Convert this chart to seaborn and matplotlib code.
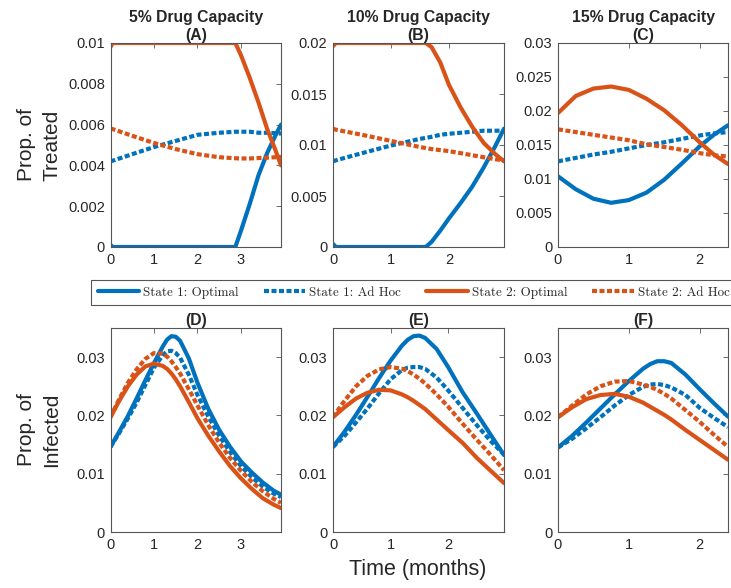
import matplotlib
matplotlib.use("Agg")
import matplotlib.pyplot as plt
import seaborn as sns
from matplotlib.ticker import FuncFormatter

# ---- data ----
BLUE = "#0072BD"
ORANGE = "#D95319"

# (A) 5% capacity, treated
t_a = [0, 0.05, 0.5, 1.0, 1.5, 2.0, 2.5, 2.87, 3.0, 3.2, 3.4, 3.6, 3.8, 3.92]
a_s1_opt = [0.0001, 0, 0, 0, 0, 0, 0, 0, 0.0008, 0.0021, 0.0035, 0.0046, 0.0055, 0.0060]
a_s1_adh = [0.0042, 0.00423, 0.00455, 0.0049, 0.0052, 0.0055, 0.0056, 0.00565, 0.00565,
            0.00565, 0.0056, 0.0056, 0.00558, 0.00556]
a_s2_opt = [0.0098, 0.01, 0.01, 0.01, 0.01, 0.01, 0.01, 0.01, 0.0094, 0.0083, 0.0071,
            0.0058, 0.0047, 0.0040]
a_s2_adh = [0.0058, 0.00578, 0.00545, 0.0051, 0.0048, 0.00455, 0.0044, 0.00435, 0.00434,
            0.00434, 0.00436, 0.00438, 0.0044, 0.00442]

# (B) 10% capacity, treated
t_b = [0, 0.05, 0.5, 1.0, 1.5, 1.6, 1.7, 1.85, 2.0, 2.2, 2.4, 2.6, 2.8, 2.95]
b_s1_opt = [0.0003, 0, 0, 0, 0, 0, 0.0005, 0.0016, 0.0028, 0.0043, 0.0059, 0.0078, 0.0099, 0.0116]
b_s1_adh = [0.0084, 0.0085, 0.0092, 0.00995, 0.0106, 0.0107, 0.0108, 0.0110, 0.0111,
            0.0112, 0.0113, 0.0114, 0.0114, 0.0114]
b_s2_opt = [0.0197, 0.02, 0.02, 0.02, 0.02, 0.02, 0.0196, 0.0181, 0.0159, 0.0137, 0.0118,
            0.0102, 0.0091, 0.0084]
b_s2_adh = [0.0116, 0.0115, 0.0110, 0.0104, 0.0098, 0.0097, 0.0096, 0.0095, 0.0094,
            0.0092, 0.0090, 0.0088, 0.0086, 0.0085]

# (C) 15% capacity, treated
t_c = [0, 0.25, 0.5, 0.75, 1.0, 1.25, 1.5, 1.75, 2.0, 2.2, 2.4]
c_s1_opt = [0.0104, 0.0085, 0.0071, 0.0065, 0.0069, 0.0080, 0.0099, 0.0123, 0.0148, 0.0165, 0.0179]
c_s1_adh = [0.0126, 0.0131, 0.0136, 0.0140, 0.0145, 0.0150, 0.0154, 0.0159, 0.0164, 0.0167, 0.0169]
c_s2_opt = [0.0197, 0.0222, 0.0233, 0.0236, 0.0231, 0.0218, 0.0201, 0.0179, 0.0154, 0.0136, 0.0122]
c_s2_adh = [0.0173, 0.0169, 0.0165, 0.0161, 0.0157, 0.0151, 0.0147, 0.0143, 0.0138, 0.0135, 0.0133]

# (D) 5% capacity, infected
t_d = [0, 0.2, 0.4, 0.6, 0.8, 1.0, 1.2, 1.3, 1.4, 1.5, 1.6, 1.8, 2.0, 2.25, 2.5, 2.75, 3.0,
       3.25, 3.5, 3.75, 3.92]
d_s1_opt = [0.0146, 0.0172, 0.0199, 0.0229, 0.0260, 0.0290, 0.0318, 0.0330, 0.0336, 0.0335,
            0.0328, 0.0298, 0.0256, 0.0211, 0.0175, 0.0146, 0.0121, 0.0102, 0.0085, 0.0071, 0.0064]
d_s1_adh = [0.0146, 0.0170, 0.0195, 0.0222, 0.0252, 0.0282, 0.0303, 0.0310, 0.0311, 0.0307,
            0.0299, 0.0270, 0.0235, 0.0198, 0.0165, 0.0137, 0.0113, 0.0094, 0.0078, 0.0066, 0.0060]
d_s2_opt = [0.0197, 0.0225, 0.0250, 0.0270, 0.0284, 0.0289, 0.0285, 0.0280, 0.0272, 0.0262,
            0.0250, 0.0223, 0.0195, 0.0165, 0.0138, 0.0113, 0.0092, 0.0074, 0.0058, 0.0047, 0.0041]
d_s2_adh = [0.0197, 0.0228, 0.0256, 0.0279, 0.0297, 0.0307, 0.0306, 0.0301, 0.0293, 0.0283,
            0.0272, 0.0245, 0.0217, 0.0183, 0.0153, 0.0127, 0.0105, 0.0086, 0.0070, 0.0057, 0.0050]

# (E) 10% capacity, infected
t_e = [0, 0.2, 0.4, 0.6, 0.8, 1.0, 1.2, 1.3, 1.4, 1.5, 1.6, 1.8, 2.0, 2.25, 2.5, 2.75, 2.97]
e_s1_opt = [0.0146, 0.0172, 0.0201, 0.0232, 0.0264, 0.0294, 0.0320, 0.0330, 0.0336, 0.0337,
            0.0333, 0.0314, 0.0283, 0.0240, 0.0203, 0.0165, 0.0132]
e_s1_adh = [0.0146, 0.0165, 0.0188, 0.0212, 0.0238, 0.0262, 0.0278, 0.0282, 0.0283, 0.0283,
            0.0280, 0.0265, 0.0243, 0.0213, 0.0183, 0.0155, 0.0133]
e_s2_opt = [0.0197, 0.0214, 0.0229, 0.0239, 0.0244, 0.0243, 0.0236, 0.0231, 0.0225, 0.0218,
            0.0211, 0.0193, 0.0175, 0.0153, 0.0127, 0.0104, 0.0084]
e_s2_adh = [0.0197, 0.0225, 0.0250, 0.0268, 0.0279, 0.0283, 0.0280, 0.0276, 0.0270, 0.0263,
            0.0255, 0.0236, 0.0215, 0.0186, 0.0158, 0.0131, 0.0106]

# (F) 15% capacity, infected
t_f = [0, 0.2, 0.4, 0.6, 0.8, 1.0, 1.2, 1.3, 1.4, 1.5, 1.6, 1.8, 2.0, 2.2, 2.4]
f_s1_opt = [0.0145, 0.0165, 0.0188, 0.0212, 0.0236, 0.0259, 0.0280, 0.0288, 0.0293, 0.0293,
            0.0290, 0.0270, 0.0245, 0.0221, 0.0198]
f_s1_adh = [0.0145, 0.0160, 0.0178, 0.0197, 0.0217, 0.0235, 0.0249, 0.0253, 0.0254, 0.0252,
            0.0248, 0.0235, 0.0213, 0.0196, 0.0180]
f_s2_opt = [0.0197, 0.0214, 0.0228, 0.0235, 0.0237, 0.0232, 0.0222, 0.0215, 0.0208, 0.0201,
            0.0193, 0.0175, 0.0158, 0.0141, 0.0124]
f_s2_adh = [0.0197, 0.0217, 0.0236, 0.0250, 0.0258, 0.0259, 0.0253, 0.0249, 0.0244, 0.0237,
            0.0229, 0.0209, 0.0189, 0.0167, 0.0146]

labels = ["State 1: Optimal", "State 1: Ad Hoc", "State 2: Optimal", "State 2: Ad Hoc"]
titles = ["5% Drug Capacity\n(A)", "10% Drug Capacity\n(B)", "15% Drug Capacity\n(C)",
          "(D)", "(E)", "(F)"]
xlims = [3.92, 2.95, 2.4, 3.92, 2.97, 2.4]
xticks = [[0, 1, 2, 3], [0, 1, 2], [0, 1, 2], [0, 1, 2, 3], [0, 1, 2], [0, 1, 2]]
yticks_top = [[0, 0.002, 0.004, 0.006, 0.008, 0.01],
              [0, 0.005, 0.01, 0.015, 0.02],
              [0, 0.005, 0.01, 0.015, 0.02, 0.025, 0.03]]
yticks_bot = [0, 0.01, 0.02, 0.03]

panels = [
    (t_a, [a_s1_opt, a_s1_adh, a_s2_opt, a_s2_adh]),
    (t_b, [b_s1_opt, b_s1_adh, b_s2_opt, b_s2_adh]),
    (t_c, [c_s1_opt, c_s1_adh, c_s2_opt, c_s2_adh]),
    (t_d, [d_s1_opt, d_s1_adh, d_s2_opt, d_s2_adh]),
    (t_e, [e_s1_opt, e_s1_adh, e_s2_opt, e_s2_adh]),
    (t_f, [f_s1_opt, f_s1_adh, f_s2_opt, f_s2_adh]),
]

# ---- styling ----
sns.set_theme(style="white")
plt.rcParams["font.family"] = ["Liberation Sans", "DejaVu Sans"]

W, H = 731, 588
fig = plt.figure(figsize=(W / 100, H / 100), dpi=100)

lefts = [110.5, 333, 558]
widths = [170.5, 171, 170]
tops = [43, 328]
ax_h = 204

colors = [BLUE, BLUE, ORANGE, ORANGE]
dotted = (0, (1.2, 0.6))
styles = ["-", dotted, "-", dotted]

axes = []
for i, (t, series) in enumerate(panels):
    row, col = divmod(i, 3)
    rect = [lefts[col] / W, 1 - (tops[row] + ax_h) / H, widths[col] / W, ax_h / H]
    ax = fig.add_axes(rect)
    for vals, c, ls, lab in zip(series, colors, styles, labels):
        sns.lineplot(x=t, y=vals, ax=ax, color=c, linestyle=ls, linewidth=3,
                     label=lab, legend=False, sort=False)
    ax.set_xlim(0, xlims[i])
    ax.set_xticks(xticks[i])
    if row == 0:
        ax.set_ylim(0, yticks_top[col][-1])
        ax.set_yticks(yticks_top[col])
    else:
        ax.set_ylim(0, 0.035)
        ax.set_yticks(yticks_bot)
    ax.yaxis.set_major_formatter(FuncFormatter(lambda v, p: f"{v:g}"))
    ax.tick_params(direction="in", top=True, right=True, length=3.5, width=0.6,
                   labelsize=10.5, colors="#555555", labelcolor="#262626", pad=4)
    for sp in ax.spines.values():
        sp.set_color("#555555")
        sp.set_linewidth(0.8)
    ax.set_title(titles[i], fontsize=11.3, fontweight="bold", pad=2.5, linespacing=1.2)
    ax.set_xlabel("")
    ax.set_ylabel("")
    axes.append(ax)

fig.text(39 / W, 1 - 145 / H, "Prop. of\nTreated", rotation=90, fontsize=15,
         ha="center", va="center", linespacing=1.4, color="#262626")
fig.text(39 / W, 1 - 430 / H, "Prop. of\nInfected", rotation=90, fontsize=15,
         ha="center", va="center", linespacing=1.4, color="#262626")
fig.text(418 / W, 1 - 570 / H, "Time (months)", fontsize=15.5,
         ha="center", va="center", color="#262626")

handles, labs = axes[0].get_legend_handles_labels()
leg = fig.legend(handles, labs, loc="upper left", bbox_to_anchor=(91 / W, 1 - 280 / H),
                 ncol=4, prop={"family": "cmr10", "size": 9.4}, frameon=True, fancybox=False,
                 edgecolor="#555555", framealpha=1, handlelength=3.2, handletextpad=0.3,
                 columnspacing=1.9, borderpad=0.5, borderaxespad=0)
leg.get_frame().set_linewidth(0.8)

fig.savefig("out.png", dpi=100)
